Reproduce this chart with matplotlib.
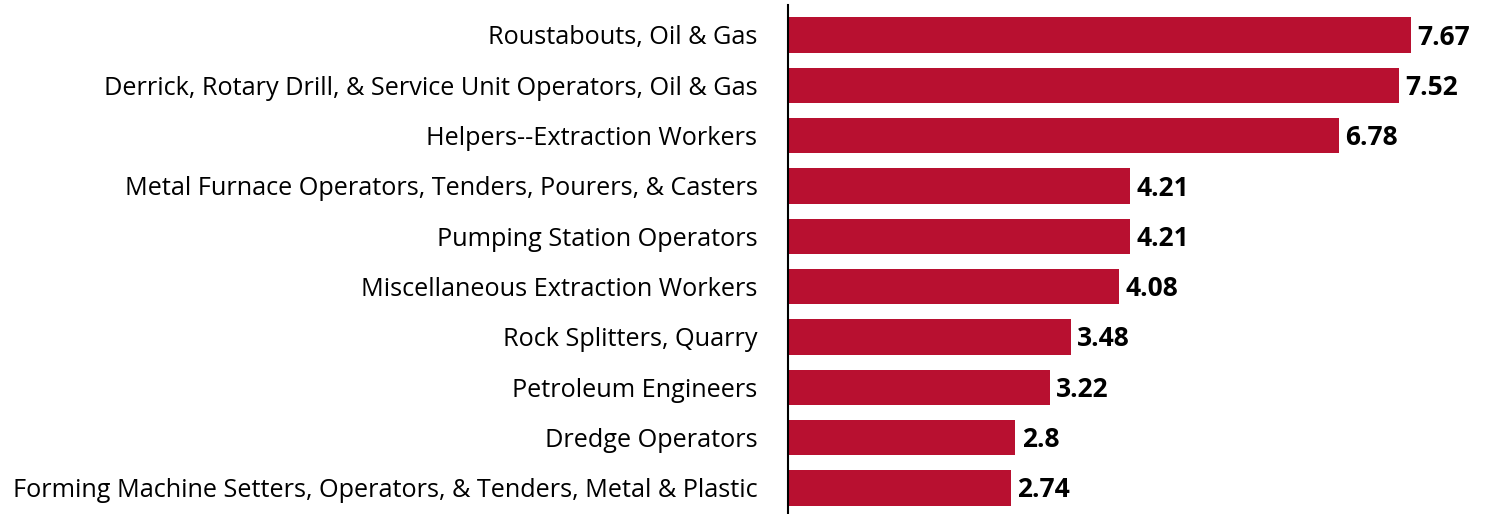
import matplotlib
matplotlib.use("Agg")
from matplotlib import pyplot as plt

categories = [
    "Roustabouts, Oil & Gas",
    "Derrick, Rotary Drill, & Service Unit Operators, Oil & Gas",
    "Helpers--Extraction Workers",
    "Metal Furnace Operators, Tenders, Pourers, & Casters",
    "Pumping Station Operators",
    "Miscellaneous Extraction Workers",
    "Rock Splitters, Quarry",
    "Petroleum Engineers",
    "Dredge Operators",
    "Forming Machine Setters, Operators, & Tenders, Metal & Plastic",
]
values = [7.67, 7.52, 6.78, 4.21, 4.21, 4.08, 3.48, 3.22, 2.8, 2.74]
value_labels = ["7.67", "7.52", "6.78", "4.21", "4.21", "4.08", "3.48", "3.22", "2.8", "2.74"]

plt.rcParams['font.family'] = ['Open Sans', 'DejaVu Sans']

fig = plt.figure(figsize=(14.89, 5.14), dpi=100)
ax = fig.add_axes([788/1489, 0, 1 - 788/1489, 509/514])

y = list(range(len(categories)))
ax.barh(y, values, height=0.7, color='#B81030')
for yi, v, s in zip(y, values, value_labels):
    ax.text(v + 0.08, yi + 0.04, s, va='center', ha='left', fontsize=19, fontweight='bold', color='black')

ax.set_ylim(9.517, -0.596)
ax.set_xlim(0, 700/81.1)
ax.set_yticks(y)
ax.set_yticklabels(categories, fontsize=18.2)
ax.tick_params(axis='y', length=0, pad=22)
ax.set_xticks([])
for s in ['top', 'right', 'bottom']:
    ax.spines[s].set_visible(False)
ax.spines['left'].set_linewidth(1.5)

fig.savefig('out.png', dpi=100)
